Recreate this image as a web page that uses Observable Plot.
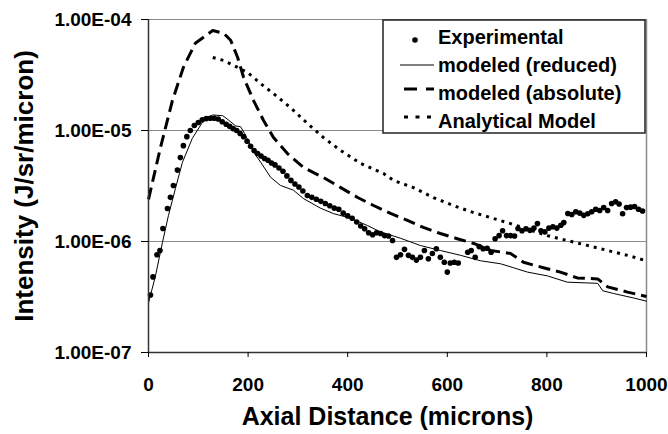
<!DOCTYPE html>
<html>
<head>
<meta charset="utf-8">
<script src="https://cdn.jsdelivr.net/npm/d3@7"></script>
<script src="https://cdn.jsdelivr.net/npm/@observablehq/plot@0.6"></script>
<style>
  html, body { margin: 0; padding: 0; background: #fff; }
  #chart svg { display: block; }
</style>
</head>
<body>
<div id="chart"></div>
<script>
// ---- Data ----
const xTicks = [0, 200, 400, 600, 800, 1000];
const yTicks = [1e-7, 1e-6, 1e-5, 1e-4];
const yTickLabels = ["1.00E-07", "1.00E-06", "1.00E-05", "1.00E-04"];
const gridValues = [1e-6, 1e-5, 1e-4];

const seriesNames = ["Experimental", "modeled (reduced)", "modeled (absolute)", "Analytical Model"];
const xTitle = "Axial Distance (microns)";
const yTitle = "Intensity (J/sr/micron)";

const expX = [4, 9, 17, 23, 29, 38, 44, 50, 58, 64, 70, 77, 84, 92, 100, 108, 116, 124, 132, 140,
  148, 156, 163, 170, 177, 184, 191, 198, 205, 212, 219, 226, 233, 240, 247, 254, 262, 270, 278, 286,
  294, 302, 310, 319, 328, 337, 346, 355, 364, 373, 382, 391, 400, 409, 418, 426, 434, 442, 450, 458,
  466, 474, 482, 490, 498, 506, 514, 522, 530, 538, 546, 554, 562, 570, 578, 586, 594, 600, 606, 614,
  622, 641, 648, 656, 664, 672, 680, 688, 696, 704, 711, 719, 727, 735, 742, 750, 758, 766, 774, 781,
  788, 796, 804, 812, 820, 828, 834, 842, 850, 858, 866, 874, 882, 890, 898, 906, 914, 922, 930, 938,
  945, 952, 960, 968, 976, 984, 992];
const expY = [3.3e-7, 4.8e-7, 7.6e-7, 8.3e-7, 1.31e-6, 1.98e-6, 2.5e-6, 3.2e-6, 4.4e-6, 5.7e-6, 7.3e-6, 8.8e-6, 1.0e-5, 1.11e-5, 1.18e-5, 1.25e-5, 1.28e-5, 1.29e-5, 1.29e-5, 1.27e-5,
  1.2e-5, 1.14e-5, 1.09e-5, 1.04e-5, 1.0e-5, 9.4e-6, 8.8e-6, 8.0e-6, 7.2e-6, 6.6e-6, 6.2e-6, 5.9e-6, 5.6e-6, 5.4e-6, 5.1e-6, 4.9e-6, 4.6e-6, 4.3e-6, 3.9e-6, 3.55e-6,
  3.3e-6, 3.1e-6, 2.85e-6, 2.6e-6, 2.5e-6, 2.4e-6, 2.3e-6, 2.2e-6, 2.1e-6, 2.0e-6, 1.95e-6, 1.8e-6, 1.7e-6, 1.62e-6, 1.5e-6, 1.38e-6, 1.3e-6, 1.2e-6, 1.15e-6, 1.2e-6,
  1.18e-6, 1.13e-6, 1.12e-6, 1.02e-6, 7.2e-7, 7.6e-7, 8.5e-7, 7.5e-7, 7.2e-7, 6.8e-7, 7.2e-7, 8.3e-7, 7.0e-7, 7.8e-7, 8.6e-7, 7.2e-7, 6.5e-7, 5.3e-7, 6.4e-7, 6.5e-7,
  6.4e-7, 8.0e-7, 8.3e-7, 7.2e-7, 9.0e-7, 8.6e-7, 8.7e-7, 8.0e-7, 1.06e-6, 1.13e-6, 1.25e-6, 1.13e-6, 1.13e-6, 1.12e-6, 1.31e-6, 1.25e-6, 1.3e-6, 1.26e-6, 1.32e-6, 1.45e-6,
  1.25e-6, 1.22e-6, 1.32e-6, 1.36e-6, 1.32e-6, 1.4e-6, 1.48e-6, 1.79e-6, 1.75e-6, 1.85e-6, 1.8e-6, 1.72e-6, 1.78e-6, 1.85e-6, 1.95e-6, 1.9e-6, 2.02e-6, 1.9e-6, 2.2e-6, 2.28e-6,
  2.18e-6, 1.78e-6, 2.02e-6, 2.04e-6, 2.07e-6, 1.95e-6, 1.88e-6];

const redX = [0, 14, 28, 40, 54, 68, 88, 108, 120, 129, 149, 160, 175, 185, 193, 205, 215, 225, 245, 265,
  291, 311, 345, 372, 406, 440, 466, 506, 546, 586, 627, 667, 707, 733, 761, 801, 841, 902, 912, 934, 974, 1000];
const redY = [2.8e-7, 4.9e-7, 9.8e-7, 1.71e-6, 3.0e-6, 5.15e-6, 8.5e-6, 1.18e-5, 1.32e-5, 1.38e-5, 1.36e-5, 1.25e-5, 1.1e-5, 1.08e-5, 9.4e-6, 7.3e-6, 6.0e-6, 5.2e-6, 3.8e-6, 3.2e-6,
  2.9e-6, 2.44e-6, 2.0e-6, 1.78e-6, 1.62e-6, 1.39e-6, 1.22e-6, 1.07e-6, 9.2e-7, 8.3e-7, 7.5e-7, 6.7e-7, 6.3e-7, 5.8e-7, 5.3e-7, 4.9e-7, 4.3e-7, 4.2e-7, 3.6e-7, 3.4e-7, 3.1e-7, 2.9e-7];

const absX = [0, 24, 48, 70, 94, 129, 151, 165, 179, 191, 211, 231, 251, 279, 311, 351, 386, 420, 452, 486,
  520, 552, 586, 620, 653, 687, 727, 753, 793, 827, 861, 902, 922, 962, 1000];
const absY = [2.4e-6, 7.0e-6, 1.86e-5, 3.7e-5, 6.1e-5, 7.95e-5, 7.5e-5, 6.5e-5, 4.55e-5, 3.0e-5, 1.86e-5, 1.23e-5, 8.65e-6, 6.2e-6, 4.65e-6, 3.77e-6, 3.06e-6, 2.49e-6, 2.11e-6, 1.79e-6,
  1.55e-6, 1.34e-6, 1.18e-6, 1.06e-6, 9.6e-7, 8.3e-7, 7.8e-7, 6.5e-7, 5.8e-7, 5.3e-7, 4.7e-7, 4.6e-7, 3.9e-7, 3.5e-7, 3.2e-7];

const anaX = [129, 151, 179, 199, 225, 251, 285, 319, 351, 386, 426, 472, 492, 532, 572, 612, 653, 693, 727, 801,
  841, 882, 922, 962, 1000];
const anaY = [4.55e-5, 4.27e-5, 3.7e-5, 3.33e-5, 2.65e-5, 2.15e-5, 1.61e-5, 1.16e-5, 8.65e-6, 6.6e-6, 5.05e-6, 4.1e-6, 3.55e-6, 3.06e-6, 2.49e-6, 2.11e-6, 1.82e-6, 1.61e-6, 1.45e-6, 1.13e-6,
  1.02e-6, 9.2e-7, 8.3e-7, 7.5e-7, 6.7e-7];

// ---- Build tables ----
const zip = (xs, ys) => xs.map((x, i) => ({x, y: ys[i]}));
const experimental = zip(expX, expY);
const reduced = zip(redX, redY);
const absolute = zip(absX, absY);
const analytical = zip(anaX, anaY);
const yLabelOf = new Map(yTicks.map((t, i) => [t, yTickLabels[i]]));

const FONT = "'Liberation Sans', Arial, sans-serif";

const chart = Plot.plot({
  width: 668,
  height: 434,
  marginLeft: 148,
  marginRight: 22,
  marginTop: 19,
  marginBottom: 82,
  style: {fontFamily: FONT, fontSize: "19px", fontWeight: "bold", background: "#fff", color: "#000"},
  x: {domain: [0, 1000]},
  y: {type: "log", domain: [1e-7, 1e-4]},
  marks: [
    Plot.ruleY(gridValues, {stroke: "#8a8a8a", strokeWidth: 1.2}),
    Plot.ruleX([1000], {stroke: "#8a8a8a", strokeWidth: 1.5}),
    Plot.line(analytical, {x: "x", y: "y", stroke: "#000", strokeWidth: 3, strokeDasharray: "3,5", strokeLinecap: "butt"}),
    Plot.line(absolute, {x: "x", y: "y", stroke: "#000", strokeWidth: 3, strokeDasharray: "12,6", strokeLinecap: "butt"}),
    Plot.line(reduced, {x: "x", y: "y", stroke: "#000", strokeWidth: 1}),
    Plot.dot(experimental, {x: "x", y: "y", r: 2.8, fill: "#000", stroke: "none"}),
    Plot.ruleX([0], {stroke: "#333", strokeWidth: 1.5}),
    Plot.ruleY([1e-7], {stroke: "#333", strokeWidth: 1.5}),
    Plot.axisX({ticks: xTicks, tickSize: 5, tickPadding: 20, tickFormat: d => String(d), label: null, fontSize: 19, fontWeight: "bold"}),
    Plot.axisY({ticks: yTicks, tickSize: 7, tickPadding: 10, tickFormat: d => yLabelOf.get(d), label: null, fontSize: 19, fontWeight: "bold"}),
    Plot.text([xTitle], {frameAnchor: "bottom", dx: -10, dy: 72, fontSize: 25, fontWeight: "bold", lineAnchor: "bottom"}),
    Plot.text([yTitle], {frameAnchor: "left", dx: -124, rotate: -90, fontSize: 26, fontWeight: "bold", textAnchor: "middle", lineAnchor: "middle"})
  ]
});

document.getElementById("chart").appendChild(chart);

// ---- Legend (inside plot, top right) ----
const svg = d3.select(chart);
const lg = svg.append("g")
  .attr("font-family", FONT).attr("font-weight", "bold").attr("font-size", 20)
  .attr("text-anchor", "start");
lg.append("rect").attr("x", 383).attr("y", 20).attr("width", 262).attr("height", 113)
  .attr("fill", "#fff").attr("stroke", "#222").attr("stroke-width", 1.5);
const rows = [44, 72, 100, 128];
lg.append("circle").attr("cx", 415).attr("cy", 40).attr("r", 2.8).attr("fill", "#000");
lg.append("line").attr("x1", 400).attr("x2", 434).attr("y1", 65).attr("y2", 65).attr("stroke", "#000").attr("stroke-width", 1);
lg.append("line").attr("x1", 404).attr("x2", 434).attr("y1", 89).attr("y2", 89).attr("stroke", "#000").attr("stroke-width", 3).attr("stroke-dasharray", "13,9");
lg.append("line").attr("x1", 404).attr("x2", 434).attr("y1", 117).attr("y2", 117).attr("stroke", "#000").attr("stroke-width", 3).attr("stroke-dasharray", "4,7.5");
seriesNames.forEach((name, i) => {
  lg.append("text").attr("x", 438).attr("y", rows[i]).attr("fill", "#000").attr("text-anchor", "start").text(name);
});
</script>
</body>
</html>
